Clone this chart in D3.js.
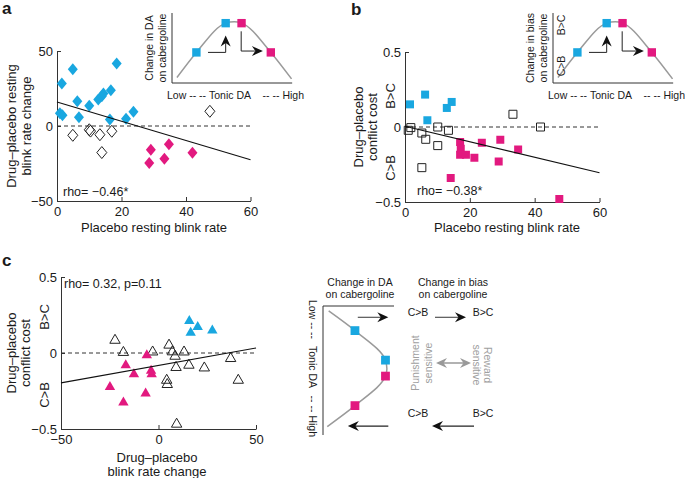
<!DOCTYPE html>
<html><head><meta charset="utf-8">
<script src="https://cdn.jsdelivr.net/npm/d3@7"></script>
<style>
body{margin:0;background:#fff}
svg{display:block}
text{font-family:"Liberation Sans",Arial,Helvetica,sans-serif;fill:#1a1a1a}
</style>
</head><body>
<svg id="chart" width="685" height="478"></svg>
<script>
// ---------------- DATA ----------------
// Panel a: placebo resting blink rate vs drug–placebo blink rate change
const aBlue = [[1.5,28.3],[4.9,37.8],[18.5,41.6],[6.3,16.5],[0.9,8.5],[1.7,7.1],[6.8,5.8],[10.0,13.5],[12.8,17.6],[13.9,19.8],[14.4,21.6],[16.7,23.8],[16.4,4.3],[21.4,4.9],[23.7,9.5]];
const aOpen = [[4.9,-6.2],[10.0,-2.5],[10.4,-3.4],[13.3,-5.8],[17.0,-3.5],[13.9,-17.7],[47.4,9.8]];
const aMagenta = [[29.1,-15.8],[34.7,-12.2],[28.6,-24.6],[33.3,-21.8],[42.0,-17.8]];
const aFit = [[0,16],[60,-22.5]];
const aXTicks = [0,20,40,60], aXLabels = ["0","20","40","60"];
const aYTicks = [-50,0,50], aYLabels = ["\u221250","0","50"];

// Panel b: placebo resting blink rate vs drug–placebo conflict cost
const bBlue = [[1.55,0.151],[6.2,0.216],[6.9,0.045],[12.9,0.127],[14.4,0.167]];
const bOpen = [[1.0,-0.022],[1.8,-0.004],[5.2,-0.04],[6.4,-0.082],[10.1,0.0],[10.1,-0.124],[13.4,-0.022],[5.2,-0.271],[33.3,0.085],[41.8,0.0]];
const bMagenta = [[17.0,-0.10],[17.2,-0.145],[17.0,-0.185],[18.8,-0.185],[21.4,-0.205],[23.7,-0.105],[29.4,-0.085],[28.9,-0.23],[34.9,-0.15],[14.1,-0.34],[47.6,-0.48]];
const bFit = [[0,0.005],[60,-0.305]];
const bXTicks = [0,20,40,60], bXLabels = ["0","20","40","60"];
const bYTicks = [-0.5,0,0.5], bYLabels = ["\u22120.5","0","0.5"];

// Panel c: drug–placebo blink rate change vs drug–placebo conflict cost
const cBlue = [[15.8,0.214],[20.1,0.175],[16.5,0.136],[27.6,0.151]];
const cOpen = [[-22.3,0.087],[-18,0.007],[-3,0.01],[5.4,0.055],[7.1,0.011],[8.5,-0.018],[13.1,0.01],[9.0,-0.092],[15.6,-0.077],[23.5,-0.095],[37,-0.033],[4.2,-0.176],[4.5,-0.204],[40.9,-0.176],[9.3,-0.465]];
const cMagenta = [[-6,-0.011],[-16.8,-0.077],[-12.6,-0.136],[-3.8,-0.114],[-3.5,-0.136],[-24.9,-0.22],[-6.6,-0.263],[-18,-0.322]];
const cFit = [[-50,-0.197],[50,0.033]];
const cXTicks = [-50,0,50], cXLabels = ["\u221250","0","50"];
const cYTicks = [-0.5,0,0.5], cYLabels = ["\u22120.5","0","0.5"];

// Schematic inverted-U (tonic DA position t, change h)
const curveT = [0.04,0.2,0.44,0.51,0.57,0.81,0.98];
const curveH = [0.08,0.45,0.88,0.9,0.88,0.45,0.06];
const blueT = [0.2,0.44], blueH = [0.45,0.88];
const magentaT = [0.57,0.81], magentaH = [0.88,0.45];

// ---------------- STYLE ----------------
const BLUE = "#19a7e0", MAGENTA = "#e2197f", AX = "#333";
const SMALL = 10.5;
const svg = d3.select("#chart");

const diamond = {draw(ctx){const w=5,h=6;ctx.moveTo(0,-h);ctx.lineTo(w,0);ctx.lineTo(0,h);ctx.lineTo(-w,0);ctx.closePath();}};
const square = {draw(ctx){const s=4;ctx.rect(-s,-s,2*s,2*s);}};
const tri = {draw(ctx){ctx.moveTo(0,-5.5);ctx.lineTo(5.2,3.5);ctx.lineTo(-5.2,3.5);ctx.closePath();}};

function arrowHead(g, x, y, angleDeg, L, W, notch, fill){
  g.append("path")
    .attr("d", `M0,0L${-L},${-W}L${-L+notch},0L${-L},${W}Z`)
    .attr("transform", `translate(${x},${y}) rotate(${angleDeg})`)
    .attr("fill", fill);
}

function scatterPanel(o){
  const g = svg.append("g");
  const x = d3.scaleLinear().domain(o.xDom).range(o.xRange);
  const y = d3.scaleLinear().domain(o.yDom).range(o.yRange);
  const xa = d3.axisBottom(x).tickValues(o.xTicks).tickFormat((d,i)=>o.xLabels[i]).tickSizeInner(-4).tickSizeOuter(0).tickPadding(6);
  const ya = d3.axisLeft(y).tickValues(o.yTicks).tickFormat((d,i)=>o.yLabels[i]).tickSizeInner(-4).tickSizeOuter(0).tickPadding(4);
  const gx = g.append("g").attr("transform",`translate(0,${o.yRange[0]})`).call(xa);
  const gy = g.append("g").attr("transform",`translate(${o.xRange[0]},0)`).call(ya);
  [gx,gy].forEach(a=>{
    a.selectAll("path,line").attr("stroke",AX);
    a.selectAll("text").attr("font-size",13).attr("fill","#1a1a1a").style("font-family",'"Liberation Sans",Arial,sans-serif');
  });
  g.append("line").attr("x1",x(o.xDom[0])).attr("x2",x(o.xDom[1])).attr("y1",y(0)).attr("y2",y(0))
    .attr("stroke","#333").attr("stroke-width",1).attr("stroke-dasharray","4,3");
  const sym = d3.symbol().type(o.shape);
  const pts = (data, fill, stroke) => g.selectAll(null).data(data).enter().append("path")
    .attr("d", sym).attr("transform", d=>`translate(${x(d[0])},${y(d[1])})`)
    .attr("fill", fill).attr("stroke", stroke).attr("stroke-width", stroke==="none"?0:1);
  pts(o.open, "none", "#222");
  pts(o.blue, BLUE, "none");
  pts(o.magenta, MAGENTA, "none");
  g.append("path").datum(o.fit).attr("d", d3.line().x(d=>x(d[0])).y(d=>y(d[1])))
    .attr("stroke","#111").attr("stroke-width",1.2).attr("fill","none");
  return {x,y};
}

function txt(x,y,s,opts={}){
  const t = svg.append("text").attr("x",x).attr("y",y).text(s)
    .attr("font-size",opts.size||13).attr("text-anchor",opts.anchor||"start");
  if(opts.rot!==undefined) t.attr("transform",`rotate(${opts.rot},${x},${y})`);
  if(opts.weight) t.attr("font-weight",opts.weight);
  if(opts.fill) t.style("fill",opts.fill);
  if(opts.dy) t.attr("dy",opts.dy);
  return t;
}

// ---------------- PANEL A ----------------
scatterPanel({xDom:[0,60], yDom:[-50,50], xRange:[57,250.5], yRange:[201,51],
  xTicks:aXTicks, xLabels:aXLabels, yTicks:aYTicks, yLabels:aYLabels,
  shape:diamond, open:aOpen, blue:aBlue, magenta:aMagenta, fit:aFit});
txt(2,14,"a",{size:17,weight:"bold"});
txt(11,126,"Drug\u2013placebo resting",{rot:-90,anchor:"middle",dy:"0.35em"});
txt(26,126,"blink rate change",{rot:-90,anchor:"middle",dy:"0.35em"});
txt(154,232,"Placebo resting blink rate",{anchor:"middle"});
txt(63,196,"rho= \u22120.46*",{size:12.5});

// ---------------- PANEL B ----------------
scatterPanel({xDom:[0,60], yDom:[-0.5,0.5], xRange:[405,599.5], yRange:[202,52],
  xTicks:bXTicks, xLabels:bXLabels, yTicks:bYTicks, yLabels:bYLabels,
  shape:square, open:bOpen, blue:bBlue, magenta:bMagenta, fit:bFit});
txt(351,15,"b",{size:17,weight:"bold"});
txt(358,127,"Drug\u2013placebo",{rot:-90,anchor:"middle",dy:"0.35em"});
txt(372,127,"conflict cost",{rot:-90,anchor:"middle",dy:"0.35em"});
txt(390,96,"B>C",{rot:-90,anchor:"middle",dy:"0.35em"});
txt(390,168,"C>B",{rot:-90,anchor:"middle",dy:"0.35em"});
txt(507,232,"Placebo resting blink rate",{anchor:"middle"});
txt(417,195,"rho= \u22120.38*",{size:12.5});

// ---------------- PANEL C ----------------
scatterPanel({xDom:[-50,50], yDom:[-0.5,0.5], xRange:[61,256], yRange:[429,277],
  xTicks:cXTicks, xLabels:cXLabels, yTicks:cYTicks, yLabels:cYLabels,
  shape:tri, open:cOpen, blue:cBlue, magenta:cMagenta, fit:cFit});
txt(2,266,"c",{size:17,weight:"bold"});
txt(11,353,"Drug\u2013placebo",{rot:-90,anchor:"middle",dy:"0.35em"});
txt(25,353,"conflict cost",{rot:-90,anchor:"middle",dy:"0.35em"});
txt(44,317,"B>C",{rot:-90,anchor:"middle",dy:"0.35em"});
txt(44,395,"C>B",{rot:-90,anchor:"middle",dy:"0.35em"});
txt(157,462,"Drug\u2013placebo",{anchor:"middle"});
txt(157,476,"blink rate change",{anchor:"middle"});
txt(64,288,"rho= 0.32, p=0.11",{size:12.5});

// ---------------- INSETS (a, b) ----------------
function inset(x0, labels, bias){
  const g = svg.append("g");
  const t = d3.scaleLinear().domain([0,1]).range([x0, x0+122]);
  const h = d3.scaleLinear().domain([0,1]).range([83, 15]);
  g.append("path").attr("d",`M${t(0)},13V${h(0)}H${t(0.985)}`).attr("fill","none").attr("stroke",AX).attr("stroke-width",1);
  const pts = curveT.map((d,i)=>[d,curveH[i]]);
  g.append("path").datum(pts).attr("d", d3.line().x(d=>t(d[0])).y(d=>h(d[1])).curve(d3.curveMonotoneX))
    .attr("fill","none").attr("stroke","#9a9a9a").attr("stroke-width",1.5);
  const sq = d3.symbol().type(square);
  blueT.forEach((d,i)=>g.append("path").attr("d",sq).attr("transform",`translate(${t(d)},${h(blueH[i])}) scale(1.05)`).attr("fill",BLUE));
  magentaT.forEach((d,i)=>g.append("path").attr("d",sq).attr("transform",`translate(${t(d)},${h(magentaH[i])}) scale(1.05)`).attr("fill",MAGENTA));
  g.append("path").attr("d",`M${t(0.295)},${h(0.45)}H${t(0.44)}V${h(0.62)}`).attr("fill","none").attr("stroke","#222").attr("stroke-width",1);
  arrowHead(g, t(0.44), h(0.70), -90, 11, 5, 3.5, "#111");
  g.append("path").attr("d",`M${t(0.567)},${h(0.76)}V${h(0.47)}H${t(0.68)}`).attr("fill","none").attr("stroke","#222").attr("stroke-width",1);
  arrowHead(g, t(0.745), h(0.47), 0, 11, 5, 3.5, "#111");
  txt(x0-23, 48, labels[0], {size:SMALL,rot:-90,anchor:"middle",dy:"0.35em"});
  txt(x0-10, 48, labels[1], {size:SMALL,rot:-90,anchor:"middle",dy:"0.35em"});
  txt(x0-5, 99, "Low -- --", {size:SMALL});
  txt(x0+58, 99, "Tonic DA", {size:SMALL, anchor:"middle"});
  txt(x0+132, 99, "-- -- High", {size:SMALL, anchor:"end"});
  if(bias){
    txt(x0+8, 25, "B>C", {size:SMALL,rot:-90,anchor:"middle",dy:"0.35em"});
    txt(x0+8, 66, "C>B", {size:SMALL,rot:-90,anchor:"middle",dy:"0.35em"});
  }
}
inset(172, ["Change in DA","on cabergoline"], false);
inset(553, ["Change in bias","on cabergoline"], true);

// ---------------- SCHEMATIC ----------------
(function(){
  const g = svg.append("g");
  const ty = d3.scaleLinear().domain([0,1]).range([306, 429]);
  const hx = d3.scaleLinear().domain([0,1]).range([323, 394]);
  g.append("path").attr("d",`M${hx(1)},${ty(0)}H${hx(0)}V435`).attr("fill","none").attr("stroke",AX).attr("stroke-width",1);
  const pts = curveT.map((d,i)=>[d,curveH[i]]);
  g.append("path").datum(pts).attr("d", d3.line().x(d=>hx(d[1])).y(d=>ty(d[0])).curve(d3.curveMonotoneY))
    .attr("fill","none").attr("stroke","#9a9a9a").attr("stroke-width",1.5);
  const sq = d3.symbol().type(square);
  blueT.forEach((d,i)=>g.append("path").attr("d",sq).attr("transform",`translate(${hx(blueH[i])},${ty(d)}) scale(1.1)`).attr("fill",BLUE));
  magentaT.forEach((d,i)=>g.append("path").attr("d",sq).attr("transform",`translate(${hx(magentaH[i])},${ty(d)}) scale(1.1)`).attr("fill",MAGENTA));
  g.append("line").attr("x1",hx(0.49)).attr("x2",hx(0.84)).attr("y1",ty(0.092)).attr("y2",ty(0.092)).attr("stroke","#555").attr("stroke-width",1.2);
  arrowHead(g, hx(0.92), ty(0.092), 0, 11, 5, 3.5, "#111");
  g.append("line").attr("x1",hx(0.92)).attr("x2",hx(0.43)).attr("y1",ty(0.976)).attr("y2",ty(0.976)).attr("stroke","#222").attr("stroke-width",1.2);
  arrowHead(g, hx(0.35), ty(0.976), 180, 11, 5, 3.5, "#111");
  g.append("line").attr("x1",435).attr("x2",460).attr("y1",ty(0.092)).attr("y2",ty(0.092)).attr("stroke","#555").attr("stroke-width",1.2);
  arrowHead(g, 466, ty(0.092), 0, 11, 5, 3.5, "#111");
  g.append("line").attr("x1",474).attr("x2",438).attr("y1",ty(0.976)).attr("y2",ty(0.976)).attr("stroke","#222").attr("stroke-width",1.2);
  arrowHead(g, 432, ty(0.976), 180, 11, 5, 3.5, "#111");
  g.append("line").attr("x1",442).attr("x2",465).attr("y1",363).attr("y2",363).attr("stroke","#999").attr("stroke-width",1.5);
  arrowHead(g, 471, 363, 0, 11, 5, 3.5, "#999");
  arrowHead(g, 436, 363, 180, 11, 5, 3.5, "#999");
  txt(360,286,"Change in DA",{size:SMALL,anchor:"middle"});
  txt(360,298,"on cabergoline",{size:SMALL,anchor:"middle"});
  txt(453,286,"Change in bias",{size:SMALL,anchor:"middle"});
  txt(453,298,"on cabergoline",{size:SMALL,anchor:"middle"});
  txt(418,316,"C>B",{size:SMALL,anchor:"middle"});
  txt(483,316,"B>C",{size:SMALL,anchor:"middle"});
  txt(418,417,"C>B",{size:SMALL,anchor:"middle"});
  txt(483,417,"B>C",{size:SMALL,anchor:"middle"});
  txt(313,300,"Low -- --",{size:SMALL,rot:90,dy:"0.35em"});
  txt(313,367,"Tonic DA",{size:SMALL,rot:90,anchor:"middle",dy:"0.35em"});
  txt(313,437,"-- -- High",{size:SMALL,rot:90,anchor:"end",dy:"0.35em"});
  txt(415,363,"Punishment",{size:SMALL,rot:-90,anchor:"middle",dy:"0.35em",fill:"#a0a0a0"});
  txt(428,363,"sensitive",{size:SMALL,rot:-90,anchor:"middle",dy:"0.35em",fill:"#a0a0a0"});
  txt(488,365,"Reward",{size:SMALL,rot:90,anchor:"middle",dy:"0.35em",fill:"#a0a0a0"});
  txt(477,365,"sensitive",{size:SMALL,rot:90,anchor:"middle",dy:"0.35em",fill:"#a0a0a0"});
})();
</script>
</body></html>
